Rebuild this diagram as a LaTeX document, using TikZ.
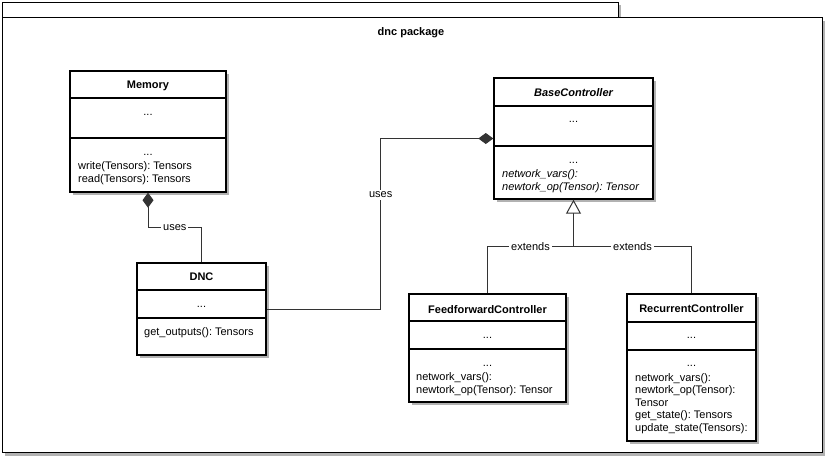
\documentclass[tikz,border=0pt]{standalone}
\usepackage{fontspec}
\setmainfont{Liberation Sans}
\usetikzlibrary{arrows.meta,shadows,calc}
\frenchspacing
\begin{document}
\frenchspacing
\begin{tikzpicture}[x=1pt,y=-1pt,
  every node/.style={font=\fontsize{11}{13}\selectfont\frenchspacing},
  shad/.style={drop shadow={shadow xshift=3pt,shadow yshift=-3pt,fill=black!30,opacity=1}},
  cls/.style={draw=black, line width=1.4pt, fill=white, inner sep=0, shad},
  frm/.style={draw=black, line width=1.4pt, fill=white, inner sep=0, anchor=north west, shad},
  div/.style={draw=black, line width=1.4pt},
  ttl/.style={inner sep=0, anchor=base, font=\fontsize{11}{13}\selectfont\bfseries},
  dts/.style={inner sep=0, anchor=base},
  mtxt/.style={inner sep=0, anchor=base west},
  conn/.style={draw=black!80, line width=1pt},
  compose/.style={conn, -{Diamond[length=15pt,width=11pt]}},
  inherit/.style={conn, -{Triangle[open,length=14pt,width=15pt,fill=white]}},
  lbl/.style={fill=white, inner sep=2pt}
]
\useasboundingbox (0,0) rectangle (827,456);
% package frame
\node[frm, minimum width=616, minimum height=16] (tab) at (1.5,1.5) {};
\node[frm, minimum width=820, minimum height=435] (pkg) at (1.5,17) {};
\node[ttl] (pkgname) at (411,35) {dnc package};

% Memory
\node[cls, minimum width=156, minimum height=121] (mem) at (148,131.5) {};
\draw[div] (70,98) -- (226,98);
\draw[div] (70,138) -- (226,138);
\node[ttl] (memT) at (148,88) {Memory};
\node[dts] (memA) at (148,115) {...};
\node[dts] (memM) at (148,155) {...};
\node[mtxt] (memM1) at (78,169) {write(Tensors): Tensors};
\node[mtxt] (memM2) at (78,182) {read(Tensors): Tensors};

% BaseController
\node[cls, minimum width=159, minimum height=121] (base) at (573.5,138.5) {};
\draw[div] (494,106) -- (653,106);
\draw[div] (494,146) -- (653,146);
\node[ttl, font=\fontsize{11}{13}\selectfont\bfseries\itshape] (baseT) at (573.5,96) {BaseController};
\node[dts] (baseA) at (573.5,122) {...};
\node[dts] (baseM) at (573.5,163) {...};
\node[mtxt, font=\fontsize{11}{13}\selectfont\itshape\frenchspacing] (baseM1) at (502,177) {network\_vars():};
\node[mtxt, font=\fontsize{11}{13}\selectfont\itshape\frenchspacing] (baseM2) at (502,190) {newtork\_op(Tensor): Tensor};

% DNC
\node[cls, minimum width=129, minimum height=92] (dnc) at (201.5,309) {};
\draw[div] (137,290) -- (266,290);
\draw[div] (137,318) -- (266,318);
\node[ttl] (dncT) at (201.5,280) {DNC};
\node[dts] (dncA) at (201.5,307) {...};
\node[mtxt] (dncM1) at (144,335) {get\_outputs(): Tensors};

% FeedforwardController
\node[cls, minimum width=157, minimum height=108] (ff) at (487.5,348) {};
\draw[div] (409,321) -- (566,321);
\draw[div] (409,349) -- (566,349);
\node[ttl] (ffT) at (487.5,313) {FeedforwardController};
\node[dts] (ffA) at (487.5,338) {...};
\node[dts] (ffM) at (487.5,366) {...};
\node[mtxt] (ffM1) at (416,380) {network\_vars():};
\node[mtxt] (ffM2) at (416,393) {newtork\_op(Tensor): Tensor};

% RecurrentController
\node[cls, minimum width=129, minimum height=147] (rc) at (691.5,367.5) {};
\draw[div] (627,322) -- (756,322);
\draw[div] (627,350) -- (756,350);
\node[ttl] (rcT) at (691.5,312) {RecurrentController};
\node[dts] (rcA) at (691.5,338) {...};
\node[dts] (rcM) at (691.5,366) {...};
\node[mtxt] (rcM1) at (635,381) {network\_vars():};
\node[mtxt] (rcM2) at (635,393.5) {newtork\_op(Tensor):};
\node[mtxt] (rcM3) at (635,406) {Tensor};
\node[mtxt] (rcM4) at (635,418.5) {get\_state(): Tensors};
\node[mtxt] (rcM5) at (635,431) {update\_state(Tensors):};

% connectors
\draw[compose] (dnc.north) |- node[lbl,pos=0.75] (u1) {uses} ($(mem.south)+(0,35)$) -- (mem.south);
\draw[compose] (dnc.east) -- ++(114,0) |- node[lbl,pos=0.335] (u2) {uses} (base.west);
\coordinate (join) at ($(base.south)+(0,47)$);
\draw[conn] (ff.north) |- node[lbl,pos=0.75] (e1) {extends} (join);
\draw[conn] (rc.north) |- node[lbl,pos=0.75] (e2) {extends} (join);
\draw[inherit] (join) -- (base.south);
\end{tikzpicture}
\end{document}
